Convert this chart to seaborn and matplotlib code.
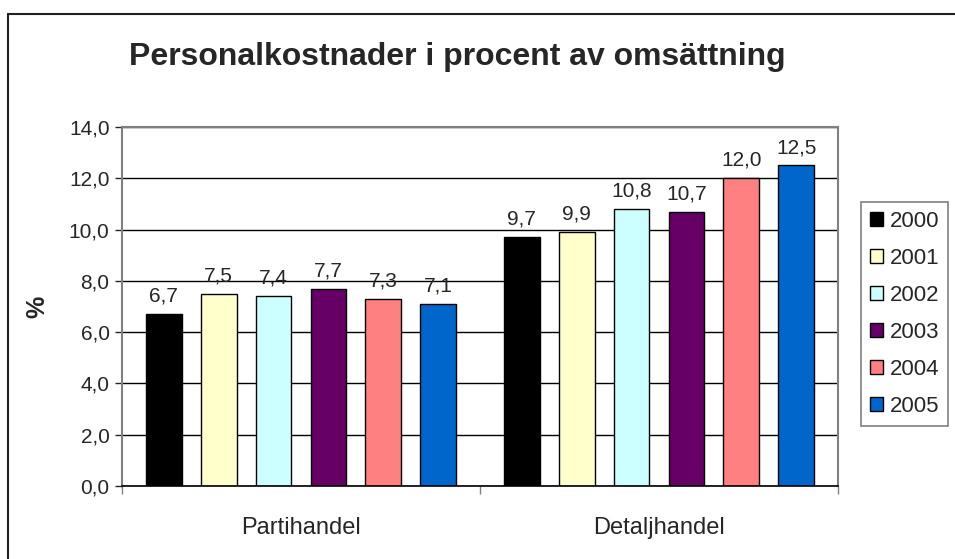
import pandas as pd
import matplotlib
matplotlib.use("Agg")
import matplotlib.pyplot as plt
from matplotlib.ticker import FuncFormatter, FixedLocator
from matplotlib.lines import Line2D
import seaborn as sns

# Data
kategorier = ["Partihandel", "Detaljhandel"]
ar = ["2000", "2001", "2002", "2003", "2004", "2005"]
partihandel = [6.7, 7.5, 7.4, 7.7, 7.3, 7.1]
detaljhandel = [9.7, 9.9, 10.8, 10.7, 12.0, 12.5]
farger = ["#000000", "#FFFFCC", "#CCFFFF", "#660066", "#FF8080", "#0066CC"]

rows = []
for a, p, d in zip(ar, partihandel, detaljhandel):
    rows.append({"handel": kategorier[0], "ar": a, "procent": p})
    rows.append({"handel": kategorier[1], "ar": a, "procent": d})
df = pd.DataFrame(rows)

sns.set_style("white")
plt.rcParams["font.family"] = ["Liberation Sans", "DejaVu Sans"]

fig = plt.figure(figsize=(9.55, 5.59), dpi=100)
W, H = 955, 559
ax = fig.add_axes([122 / W, 1 - 486 / H, (838 - 122) / W, (486 - 127) / H])

sns.barplot(data=df, x="handel", y="procent", hue="ar", order=kategorier,
            hue_order=ar, palette=farger, width=0.92, gap=0.35,
            edgecolor="black", linewidth=1, saturation=1, ax=ax)

# value labels with decimal comma
for cont in ax.containers:
    ax.bar_label(cont, labels=[f"{b.get_height():.1f}".replace(".", ",") for b in cont],
                 padding=6, fontsize=15)

ax.set_ylim(0, 14)
ax.set_yticks(range(0, 15, 2))
ax.yaxis.set_major_formatter(FuncFormatter(lambda v, p: f"{v:.1f}".replace(".", ",")))
ax.yaxis.grid(True, color="black", lw=1)
ax.set_axisbelow(True)
ax.tick_params(axis="y", left=True, length=5, width=1, labelsize=15, pad=4)

ax.set_xlim(-0.5, 1.5)
ax.tick_params(axis="x", which="major", length=0, labelsize=17, pad=22)
ax.xaxis.set_minor_locator(FixedLocator([-0.5, 0.5, 1.5]))
ax.tick_params(axis="x", which="minor", bottom=True, length=6, width=1, color="#808080")
ax.set_xlabel("")
ax.set_ylabel("%", fontsize=18, fontweight="bold", labelpad=14)

for s in ["top", "right", "left"]:
    ax.spines[s].set_color("#808080")
    ax.spines[s].set_linewidth(1.5)
ax.spines["bottom"].set_color("black")
ax.spines["bottom"].set_linewidth(1.2)

handles, labels = ax.get_legend_handles_labels()
ax.get_legend().remove()
leg = ax.legend(handles, labels, loc="upper left", bbox_to_anchor=(861 / W, 1 - 202 / H),
                bbox_transform=fig.transFigure, fontsize=16, frameon=True,
                fancybox=False, edgecolor="#808080", framealpha=1,
                handlelength=0.6, handleheight=0.6, handletextpad=0.3,
                labelspacing=0.72, borderpad=0.4, borderaxespad=0)
leg.get_frame().set_linewidth(1.2)

fig.text(457 / W, 1 - 57 / H, "Personalkostnader i procent av omsättning",
         ha="center", va="center", fontsize=23, fontweight="bold")

# outer chart frame (runs off right and bottom edge)
fig.add_artist(Line2D([8 / W, 1.0], [1 - 14 / H, 1 - 14 / H], transform=fig.transFigure,
                      color="#202020", lw=1.5))
fig.add_artist(Line2D([8 / W, 8 / W], [1 - 14 / H, 0.0], transform=fig.transFigure,
                      color="#202020", lw=1.5))

fig.savefig("out.png", dpi=100)
